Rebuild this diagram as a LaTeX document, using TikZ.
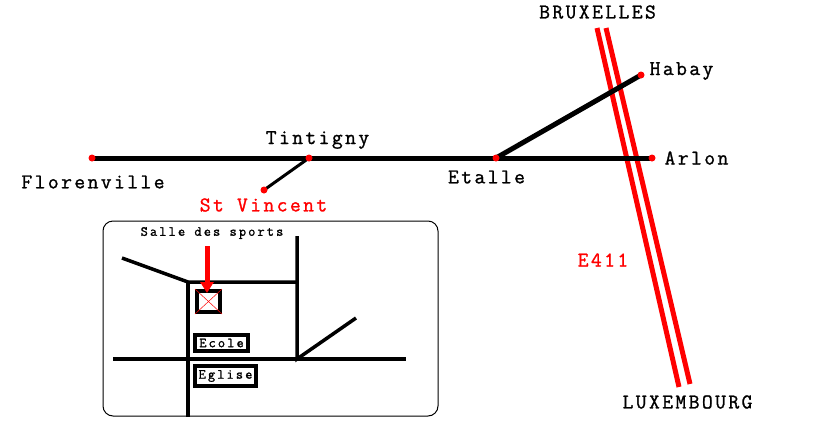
\documentclass[tikz,border=0pt]{standalone}
\usepackage{fontspec}
\newfontfamily\bigmono[LetterSpace=11.5,FakeBold=1.2]{Latin Modern Mono}
\newfontfamily\smallmono[LetterSpace=15,FakeBold=1.2]{Latin Modern Mono}
\usetikzlibrary{arrows.meta,backgrounds}
\tikzset{
    town/.style={font=\bigmono\fontsize{21}{21}\selectfont, inner sep=0pt},
    dot/.style={circle, fill=red, inner sep=0pt, minimum size=7pt},
    road/.style={line width=5pt},
    street/.style={line width=3.5pt},
    motorway/.style={red, line width=5pt},
    sign/.style={draw, line width=4pt, inner sep=0pt, font=\smallmono\fontsize{14}{14}\selectfont}
}

\begin{document}
\begin{tikzpicture}[x=1pt, y=-1pt]
    \useasboundingbox (0, 0) rectangle (819, 429);

    % Towns on the main road
    \node[dot] (flo) at (92, 158) {};
    \node[dot] (tin) at (309, 158) {};
    \node[dot] (eta) at (496, 158) {};
    \node[dot] (arl) at (652, 158) {};
    \node[dot] (hab) at (641, 75) {};
    \node[dot] (vin) at (264, 190) {};

    % Motorway ends
    \coordinate (bxa) at (597, 28);
    \coordinate (lxa) at (679, 387);
    \coordinate (bxb) at (606, 28);
    \coordinate (lxb) at (690, 384);

    \begin{scope}[on background layer]
        \draw[motorway] (bxa) -- (lxa);
        \draw[motorway] (bxb) -- (lxb);
        \draw[road] (flo.center) -- (tin.center) -- (eta.center) -- (arl.center);
        \draw[road] (eta.center) -- (hab.center);
        \draw[line width=3pt] (tin.center) -- (vin.center);
    \end{scope}

    % Town labels
    \node[town] (bruxelles) at (597.5, 12) {BRUXELLES};
    \node[town] (habay) at (681.5, 71) {Habay};
    \node[town] (tintigny) at (317.5, 140) {Tintigny};
    \node[town] (arlon) at (696.5, 158) {Arlon};
    \node[town] (etalle) at (486.5, 177) {Etalle};
    \node[town] (florenville) at (93, 182) {Florenville};
    \node[town, red] (vincent) at (263.5, 205) {St Vincent};
    \node[town, red] (e411) at (603, 260) {E411};
    \node[town] (luxembourg) at (687.5, 402) {LUXEMBOURG};

    % Local map
    \node[draw, rounded corners=10pt, line width=1pt, minimum width=335pt, minimum height=195pt] (plan) at (270.5, 318.5) {};
    \node[font=\smallmono\fontsize{14}{14}\selectfont, inner sep=0pt] (salle) at (212, 233) {Salle des sports};

    % Streets
    \coordinate (w) at (122, 258);
    \coordinate (nw) at (188, 282);
    \coordinate (ne) at (297, 282);
    \coordinate (n) at (297, 236);
    \coordinate (se) at (297, 359);
    \coordinate (diag) at (356, 318);
    \coordinate (left) at (113, 359);
    \coordinate (right) at (406, 359);
    \coordinate (s) at (188, 417);
    \draw[street] (w) -- (nw) -- (ne);
    \draw[street] (n) -- (se) -- (diag);
    \draw[street] (left) -- (right);
    \draw[street] (nw) -- (s);

    % Buildings
    \node[sign, minimum width=23pt, minimum height=21pt] (hall) at (208.5, 301.5) {};
    \draw[red, line width=0.5pt] (hall.north west) -- (hall.south east);
    \draw[red, line width=0.5pt] (hall.north east) -- (hall.south west);
    \node[sign, minimum width=53pt, minimum height=16pt] (ecole) at (221.5, 343) {Ecole};
    \node[sign, minimum width=61pt, minimum height=20pt] (eglise) at (225.5, 376) {Eglise};

    % Arrow to the hall
    \coordinate (above) at (207, 246);
    \draw[-{Triangle[width=13pt, length=11pt]}, red, line width=5pt] (above) -- (207, 293);
\end{tikzpicture}
\end{document}
